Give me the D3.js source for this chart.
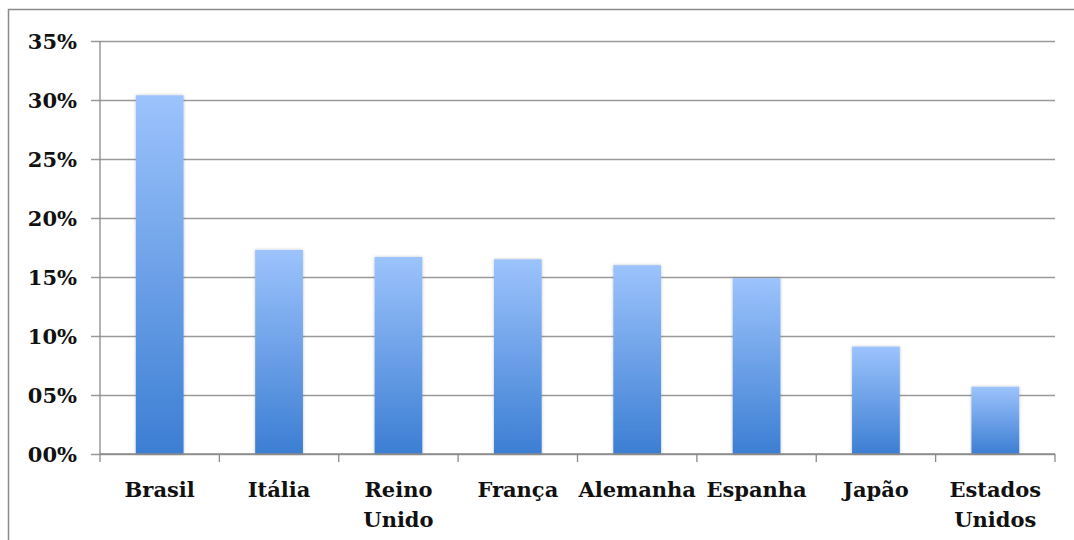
<!DOCTYPE html>
<html>
<head>
<meta charset="utf-8">
<script src="https://cdn.jsdelivr.net/npm/d3@7/dist/d3.min.js"></script>
<style>
  html, body { margin: 0; padding: 0; background: #fff; }
  svg { display: block; }
  text { font-family: "DejaVu Serif", serif; font-weight: bold; fill: #111; }
</style>
</head>
<body>
<script>
// Share by country (fraction)
const countries = ["Brasil", "Itália", "Reino Unido", "França", "Alemanha", "Espanha", "Japão", "Estados Unidos"];
const shares = [0.304, 0.173, 0.167, 0.165, 0.160, 0.149, 0.091, 0.057];
const yTicks = [0, 0.05, 0.10, 0.15, 0.20, 0.25, 0.30, 0.35];

const W = 1074, H = 540;
const plot = { left: 100, right: 1055, top: 41, bottom: 454 };

const svg = d3.select("body").append("svg").attr("width", W).attr("height", H);

const defs = svg.append("defs");
const grad = defs.append("linearGradient")
  .attr("id", "barFill").attr("x1", 0).attr("y1", 0).attr("x2", 0).attr("y2", 1);
grad.append("stop").attr("offset", "0%").attr("stop-color", "#9cc3fc");
grad.append("stop").attr("offset", "100%").attr("stop-color", "#3c7ed3");

const shadow = defs.append("filter").attr("id", "barShadow")
  .attr("x", "-20%").attr("y", "-5%").attr("width", "140%").attr("height", "110%");
shadow.append("feDropShadow").attr("dx", 0).attr("dy", 0).attr("stdDeviation", 1.6)
  .attr("flood-color", "#000").attr("flood-opacity", 0.25);

// outer frame
svg.append("rect").attr("x", 8.5).attr("y", 9.5).attr("width", 1200).attr("height", 700)
  .attr("fill", "none").attr("stroke", "#8a8a8a").attr("stroke-width", 1.5);

const x = d3.scaleBand().domain(countries).range([plot.left, plot.right])
  .paddingInner(0.6).paddingOuter(0.3);
const y = d3.scaleLinear().domain([0, 0.35]).range([plot.bottom, plot.top]);

// horizontal gridlines with left ticks
const yAxis = d3.axisLeft(y).tickValues(yTicks)
  .tickSize(-(plot.right - plot.left))
  .tickFormat(d => String(Math.round(d * 100)).padStart(2, "0") + "%");
const gy = svg.append("g").attr("transform", `translate(${plot.left},0)`).call(yAxis);
gy.select(".domain").remove();
gy.selectAll(".tick line").attr("x1", -9).attr("stroke", "#9a9a9a").attr("stroke-width", 1.3);
gy.selectAll(".tick text").attr("x", -23).attr("dy", "0.36em")
  .style("font-size", "21px").style("font-family", "DejaVu Serif").style("font-weight", "bold")
  .attr("fill", "#111");

// vertical axis line
svg.append("line").attr("x1", plot.left).attr("x2", plot.left)
  .attr("y1", y(0.35)).attr("y2", y(0) + 0.5)
  .attr("stroke", "#8a8a8a").attr("stroke-width", 1.3);

// bars
svg.append("g").selectAll("rect").data(countries).join("rect")
  .attr("x", d => x(d))
  .attr("width", x.bandwidth())
  .attr("y", (d, i) => y(shares[i]))
  .attr("height", (d, i) => y(0) - y(shares[i]))
  .attr("fill", "url(#barFill)")
  .attr("filter", "url(#barShadow)");

// category axis boundaries and ticks
const step = x.step();
const bounds = d3.range(countries.length + 1).map(i => x(countries[0]) - x.paddingOuter() * step + i * step);
svg.append("line").attr("x1", plot.left).attr("x2", plot.right)
  .attr("y1", y(0)).attr("y2", y(0)).attr("stroke", "#8a8a8a").attr("stroke-width", 1.3);
svg.append("g").selectAll("line").data(bounds).join("line")
  .attr("x1", d => d).attr("x2", d => d)
  .attr("y1", y(0)).attr("y2", y(0) + 8)
  .attr("stroke", "#8a8a8a").attr("stroke-width", 1.3);

// category labels (wrap two-word names)
const labels = svg.append("g").selectAll("text").data(countries).join("text")
  .attr("x", d => x(d) + x.bandwidth() / 2)
  .attr("y", 497)
  .attr("text-anchor", "middle")
  .style("font-size", "21px");
labels.each(function(d) {
  const words = d.split(" ");
  const t = d3.select(this);
  const single = words.length === 1 || d === "Alemanha";
  (single ? [d] : words).forEach((w, k) => {
    t.append("tspan").attr("x", x(d) + x.bandwidth() / 2).attr("dy", k === 0 ? 0 : 30).text(w);
  });
});
</script>
</body>
</html>
